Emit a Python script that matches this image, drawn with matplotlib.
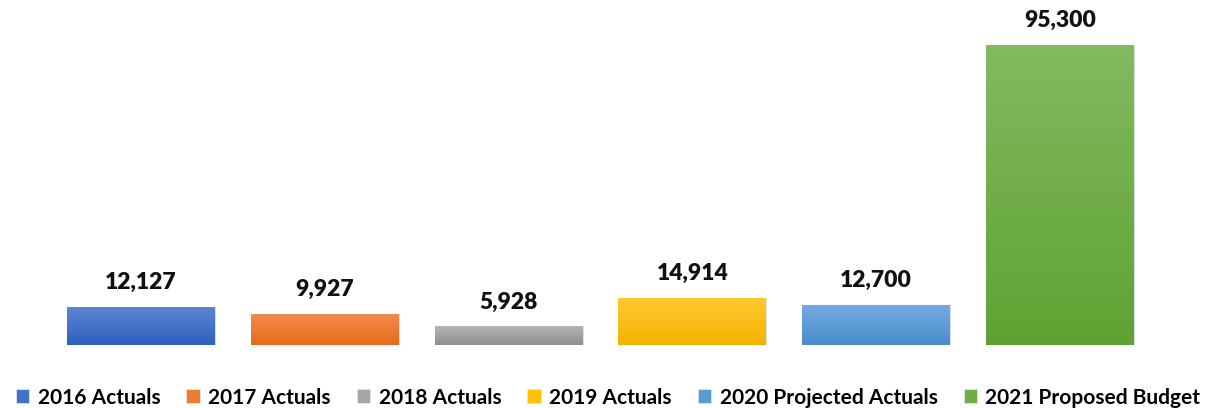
import numpy as np
import matplotlib.pyplot as plt
from matplotlib.colors import LinearSegmentedColormap

plt.rcParams["font.family"] = ["Lato", "DejaVu Sans"]

# Spending by year
categories = ["2016 Actuals", "2017 Actuals", "2018 Actuals",
              "2019 Actuals", "2020 Projected Actuals", "2021 Proposed Budget"]
values = [12127, 9927, 5928, 14914, 12700, 95300]
value_labels = ["12,127", "9,927", "5,928", "14,914", "12,700", "95,300"]

# (top, bottom) gradient colours per bar
gradients = [
    ("#5d87d3", "#2f60be"),
    ("#f28c4e", "#e66b1a"),
    ("#b4b4b4", "#8f8f8f"),
    ("#ffc933", "#f2b200"),
    ("#73abe0", "#4a8bcc"),
    ("#83ba61", "#5fa232"),
]
mid_colors = ["#4472C4", "#ED7D31", "#A5A5A5", "#FFC000", "#5B9BD5", "#70AD47"]

fig = plt.figure(figsize=(12.09, 4.08), dpi=100)
ax = fig.add_axes([49 / 1209, 63 / 408, 1103 / 1209, 335 / 408])

x = np.arange(len(values))
bars = ax.bar(x, values, width=0.805, color=mid_colors,
              edgecolor="#dfe6f0", linewidth=0.6, zorder=2)

# gradient fill clipped to each bar
grad = np.linspace(0, 1, 256).reshape(-1, 1)
for rect, (top, bottom) in zip(bars, gradients):
    cmap = LinearSegmentedColormap.from_list("g", [top, bottom])
    x0, y0 = rect.get_x(), rect.get_y()
    w, h = rect.get_width(), rect.get_height()
    im = ax.imshow(grad, cmap=cmap, aspect="auto", origin="upper",
                   extent=[x0, x0 + w, y0, y0 + h], zorder=3)
    im.set_clip_path(rect)

for xi, v, lab in zip(x, values, value_labels):
    ax.annotate(lab, (xi, v), xytext=(0, 10), textcoords="offset points",
                ha="center", va="bottom", fontsize=16.5, fontweight="heavy",
                color="#111111")

ax.set_xlim(-0.5, len(values) - 0.5)
ax.set_ylim(0, 106400)
ax.axis("off")

fig.legend(bars, categories, loc="lower center", bbox_to_anchor=(0.503, -0.045),
           ncol=6, frameon=False, handlelength=0.65,
           handleheight=0.65, handletextpad=0.4, columnspacing=1.25,
           prop={"weight": "bold", "size": 15})

fig.savefig("out.png", dpi=100)
